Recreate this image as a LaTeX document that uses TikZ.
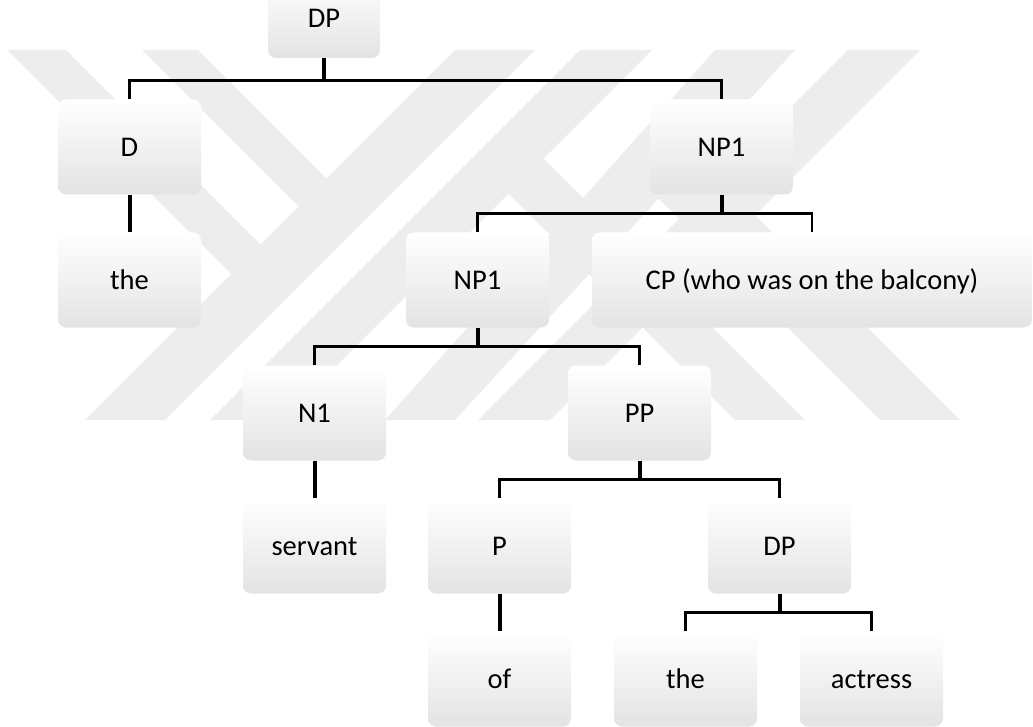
\documentclass[tikz,border=0pt]{standalone}
\usepackage{fontspec}
\setmainfont{Carlito}
\usepackage{tikz}
\usetikzlibrary{positioning}
\tikzstyle{block} = [rectangle, rounded corners=8pt, top color=white,
    middle color=white, bottom color=black!11, minimum width=143pt,
    minimum height=95pt, text height=24pt, text depth=5pt, inner sep=0pt,
    font=\fontsize{28.5}{34}\selectfont]
\tikzstyle{stem} = [line width=4pt]
\tikzstyle{bar} = [line width=2.7pt]
\tikzstyle{band} = [fill=black!7]

\begin{document}
\begin{tikzpicture}[x=1pt, y=1pt, node distance=133pt]
 \useasboundingbox (0,0) rectangle (1033,-727);

 % background stripes
 \fill[band] (455,-50) -- (535,-50) -- (165,-420) -- (85,-420) -- cycle;
 \fill[band] (580,-50) -- (652,-50) -- (282,-420) -- (210,-420) -- cycle;
 \fill[band] (715,-50) -- (795,-50) -- (455,-420) -- (385,-420) -- cycle;
 \fill[band] (848,-50) -- (920,-50) -- (550,-420) -- (478,-420) -- cycle;
 \fill[band] (7,-50) -- (66,-50) -- (260.5,-244.5) -- (231,-274) -- cycle;
 \fill[band] (142,-50) -- (198,-50) -- (326.5,-178.5) -- (298.5,-206.5) -- cycle;
 \fill[band] (543.5,-158.5) -- (805,-420) -- (735,-420) -- (508.5,-193.5) -- cycle;
 \fill[band] (690,-150) -- (960,-420) -- (880,-420) -- (650,-190) -- cycle;

 \node [block, minimum width=112pt, minimum height=80pt] (n1) at (324,-18) {DP};
 \node [block, below of=n1, xshift=-194.5pt, yshift=4pt] (n2) {D};
 \node [block, below of=n1, xshift=397.5pt, yshift=4pt] (n3) {NP1};
 \node [block, below of=n2] (n4) {the};
 \node [block, below of=n3, xshift=-244pt] (n5) {NP1};
 \node [block, below of=n3, xshift=90.5pt, minimum width=440pt] (n6) {CP (who was on the balcony)};
 \node [block, below of=n5, xshift=-163pt] (n7) {N1};
 \node [block, below of=n5, xshift=162pt] (n8) {PP};
 \node [block, below of=n7] (n9) {servant};
 \node [block, below of=n8, xshift=-140pt] (n10) {P};
 \node [block, below of=n8, xshift=140pt] (n11) {DP};
 \node [block, below of=n10] (n12) {of};
 \node [block, below of=n11, xshift=-94pt] (n13) {the};
 \node [block, below of=n11, xshift=92pt] (n14) {actress};

 \draw[bar] (n2.north) -- ++(0,19) coordinate (j1) -| (n3.north);
 \draw[stem] (n1.south) -- (n1.south |- j1);
 \draw[stem] (n2.south) -- (n4.north);

 \draw[bar] (n5.north) -- ++(0,19) coordinate (j2) -| (n6.north);
 \draw[stem] (n3.south) -- (n3.south |- j2);

 \draw[bar] (n7.north) -- ++(0,19) coordinate (j3) -| (n8.north);
 \draw[stem] (n5.south) -- (n5.south |- j3);
 \draw[stem] (n7.south) -- (n9.north);

 \draw[bar] (n10.north) -- ++(0,19) coordinate (j4) -| (n11.north);
 \draw[stem] (n8.south) -- (n8.south |- j4);
 \draw[stem] (n10.south) -- (n12.north);

 \draw[bar] (n13.north) -- ++(0,19) coordinate (j5) -| (n14.north);
 \draw[stem] (n11.south) -- (n11.south |- j5);
\end{tikzpicture}
\end{document}
